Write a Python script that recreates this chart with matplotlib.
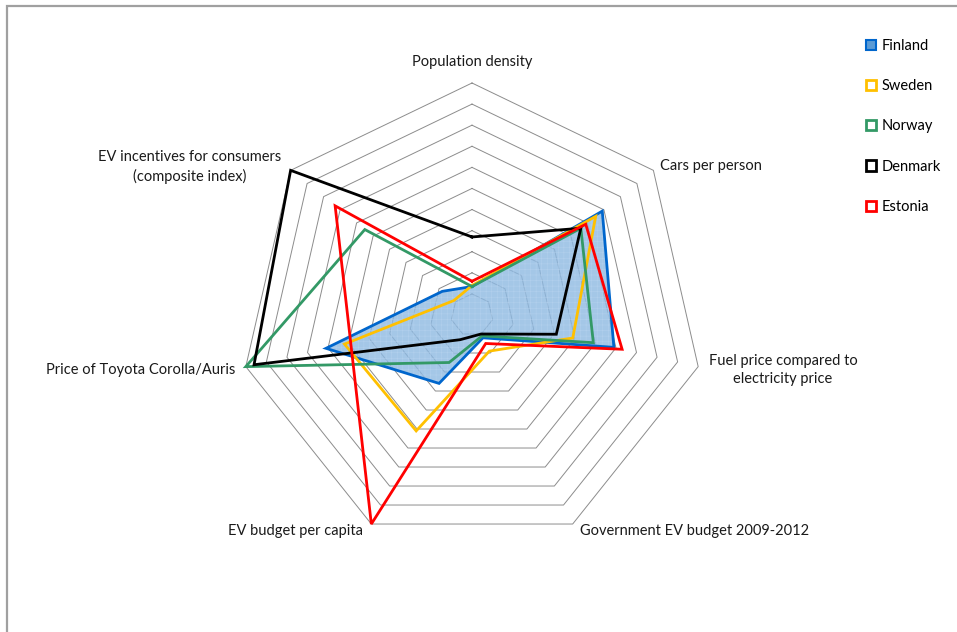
import numpy as np
import matplotlib.pyplot as plt
from matplotlib.patches import Patch, Rectangle

plt.rcParams["font.family"] = ["Lato", "DejaVu Sans"]

# radar axes, clockwise from the top
categories = [
    "Population density",
    "Cars per person",
    "Fuel price compared to\nelectricity price",
    "Government EV budget 2009-2012",
    "EV budget per capita",
    "Price of Toyota Corolla/Auris",
    "EV incentives for consumers\n(composite index)",
]

# normalised scores (0..1); Estonia has no Toyota price
finland = [0.035, 0.69, 0.59, 0.02, 0.26, 0.61, 0.08]
sweden = [0.04, 0.65, 0.39, 0.09, 0.51, 0.52, 0.01]
norway = [0.035, 0.56, 0.49, 0.01, 0.15, 1.00, 0.55]
denmark = [0.27, 0.56, 0.31, 0.00, 0.03, 0.96, 1.00]
estonia = [0.06, 0.59, 0.63, 0.05, 1.00, np.nan, 0.73]

countries = ["Finland", "Sweden", "Norway", "Denmark", "Estonia"]
series = [finland, sweden, norway, denmark, estonia]
colors = ["#0066CC", "#FFC000", "#339966", "#000000", "#FF0000"]

ring_values = np.round(np.arange(0.0, 1.01, 0.1), 2)
r_min, r_max = -0.1, 1.0

W, H = 957, 632
fig = plt.figure(figsize=(W / 100, H / 100), dpi=100)

# outer chart frame (only left/top edges fall inside the image)
fig.patches.append(Rectangle((7 / W, -0.05), 1.2, (H - 6) / H + 0.05,
                             transform=fig.transFigure, fill=False,
                             edgecolor="#A0A0A0", lw=1.6))

cx, cy, R = 472, 315, 232
ax = fig.add_axes([(cx - R) / W, (H - cy - R) / H, 2 * R / W, 2 * R / H],
                  projection="polar")
ax.set_theta_offset(np.pi / 2)
ax.set_theta_direction(-1)
ax.set_ylim(r_min, r_max)
ax.axis("off")
ax.patch.set_alpha(0)

n = len(categories)
theta = np.linspace(0, 2 * np.pi, n, endpoint=False)
theta_closed = np.append(theta, theta[0])

# heptagon gridlines
for v in ring_values:
    ax.plot(theta_closed, np.full(n + 1, v), color="#8C8C8C", lw=0.7,
            clip_on=False, zorder=1)


def closed(values):
    vals = np.asarray(values, dtype=float)
    ok = ~np.isnan(vals)
    t, r = theta[ok], vals[ok]
    return np.append(t, t[0]), np.append(r, r[0])


# Finland area fill
plt.rcParams["hatch.linewidth"] = 0.4
t, r = closed(finland)
ax.fill(t, r, facecolor="#8DB9E2", alpha=0.8, edgecolor="#B5D2EE",
        hatch="+++", lw=0, zorder=2)

for name, vals, col in zip(countries, series, colors):
    t, r = closed(vals)
    ax.plot(t, r, color=col, lw=2.0, clip_on=False, zorder=3,
            solid_joinstyle="miter")

# category labels
fs = 10.5
label_pos = [
    (472, 62, "center"),
    (660, 166, "left"),
    (783, 370, "center"),
    (580, 531, "left"),
    (296, 531, "center"),
    (235, 370, "right"),
    (190, 167, "center"),
]
for text, (x, y, ha) in zip(categories, label_pos):
    fig.text(x / W, 1 - y / H, text, ha=ha, va="center", fontsize=fs,
             color="#1a1a1a", multialignment="center", linespacing=1.45)

# legend
handles = [Patch(facecolor="#5B9BD5", edgecolor="#0066CC", lw=1.5)]
handles += [Patch(facecolor="white", edgecolor=c, lw=2.0) for c in colors[1:]]
fig.legend(handles, countries, loc="upper left",
           bbox_to_anchor=(860 / W, 1 - 33 / H), frameon=False,
           fontsize=fs, handlelength=0.7, handleheight=0.7,
           handletextpad=0.4, labelspacing=1.8, borderaxespad=0)

fig.savefig("out.png", dpi=100)
